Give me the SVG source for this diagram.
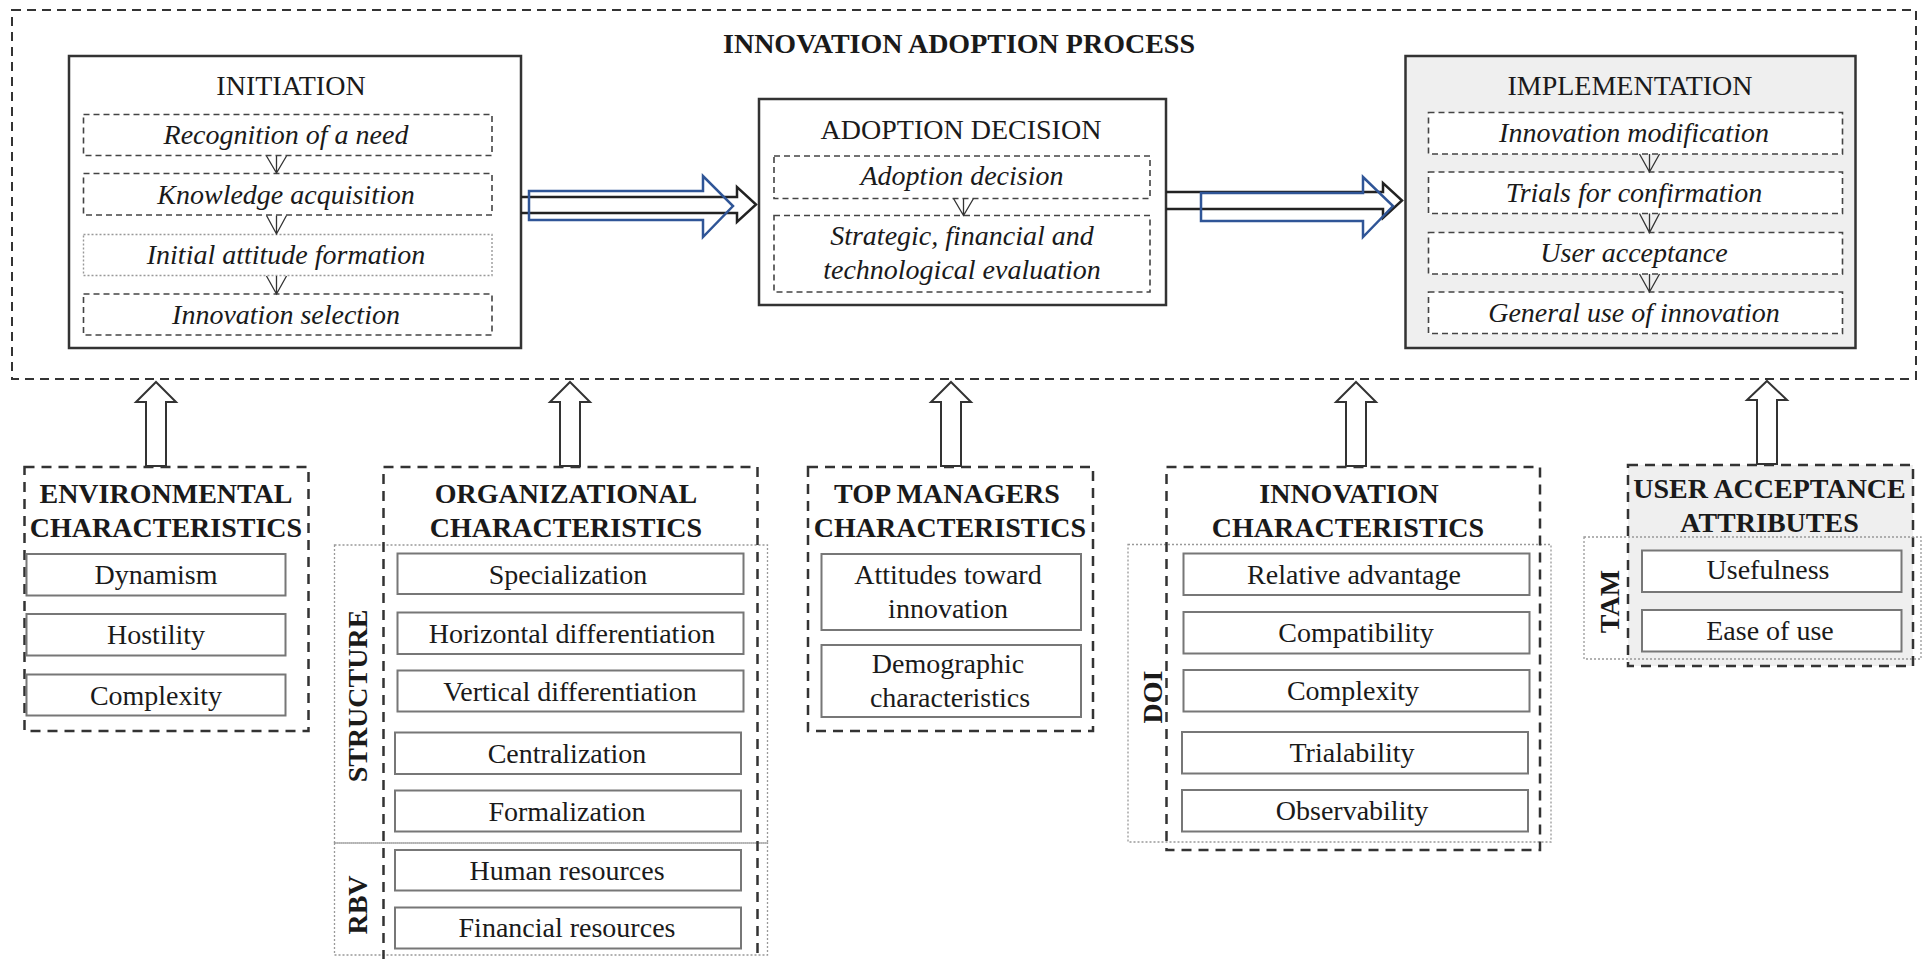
<svg xmlns="http://www.w3.org/2000/svg" width="1926" height="959" viewBox="0 0 1926 959">
<style>
text{font-family:"Liberation Serif","Times New Roman",serif;fill:#1a1a1a;text-anchor:middle}
.t{font-size:28px}
.b{font-size:28px;font-weight:bold}
.i{font-size:28px;font-style:italic}
.outer{fill:none;stroke:#333;stroke-width:2;stroke-dasharray:9 6}
.stage{fill:#fff;stroke:#333;stroke-width:2.5}
.stageg{fill:#efefef;stroke:#333;stroke-width:2.5}
.step{fill:#fff;stroke:#444;stroke-width:1.6;stroke-dasharray:6 4}
.stepd{fill:#fff;stroke:#999;stroke-width:1.4;stroke-dasharray:2 2}
.grp{fill:none;stroke:#333;stroke-width:2.5;stroke-dasharray:10 7}
.grpg{fill:#efefef;stroke:#333;stroke-width:2.5;stroke-dasharray:10 7}
.dot{fill:none;stroke:#999;stroke-width:1.3;stroke-dasharray:2 2}
.item{fill:#fff;stroke:#777;stroke-width:2}
.up{fill:#fff;stroke:#333;stroke-width:2}
.small{fill:none;stroke:#333;stroke-width:1.3}
.blk{fill:none;stroke:#222;stroke-width:2.5}
.blu{fill:none;stroke:#2f5597;stroke-width:2.5}
</style>

<g id="process">
<rect class="outer" x="12" y="10" width="1904" height="369"/>
<text class="b" x="959" y="53">INNOVATION ADOPTION PROCESS</text>
</g>

<g id="initiation">
<rect class="stage" x="69" y="56" width="452" height="292"/>
<text class="t" x="291" y="95">INITIATION</text>
<rect class="step" x="83.5" y="114.5" width="408.5" height="41"/>
<text class="i" x="286" y="143.5">Recognition of a need</text>
<rect class="step" x="83.5" y="173.5" width="408.5" height="41.5"/>
<text class="i" x="286" y="203.5">Knowledge acquisition</text>
<rect class="stepd" x="83.5" y="234.5" width="408.5" height="41"/>
<text class="i" x="286" y="263.5">Initial attitude formation</text>
<rect class="step" x="83.5" y="294" width="408.5" height="41"/>
<text class="i" x="286" y="323.5">Innovation selection</text>
</g>

<g id="adoption">
<rect class="stage" x="759" y="99" width="407" height="206"/>
<text class="t" x="961" y="138.5">ADOPTION DECISION</text>
<rect class="step" x="774" y="156" width="376" height="42.5"/>
<text class="i" x="962" y="185">Adoption decision</text>
<rect class="step" x="774" y="215.5" width="376" height="76.5"/>
<text class="i" x="962" y="245">Strategic, financial and</text>
<text class="i" x="962" y="278.5">technological evaluation</text>
</g>

<g id="implementation">
<rect class="stageg" x="1405.5" y="56" width="450" height="292"/>
<text class="t" x="1630" y="95">IMPLEMENTATION</text>
<rect class="step" x="1428.5" y="112.5" width="414" height="41.5"/>
<text class="i" x="1634" y="141.5">Innovation modification</text>
<rect class="step" x="1428.5" y="172" width="414" height="41.5"/>
<text class="i" x="1634" y="201.5">Trials for confirmation</text>
<rect class="step" x="1428.5" y="232.5" width="414" height="41.5"/>
<text class="i" x="1634" y="261.5">User acceptance</text>
<rect class="step" x="1428.5" y="292" width="414" height="41.5"/>
<text class="i" x="1634" y="321.5">General use of innovation</text>
</g>

<g id="environmental">
<rect class="grp" x="24.5" y="467" width="284" height="264"/>
<text class="b" x="166" y="503">ENVIRONMENTAL</text>
<text class="b" x="166" y="537">CHARACTERISTICS</text>
<rect class="item" x="26.5" y="554" width="259" height="41.5"/>
<text class="t" x="156" y="584">Dynamism</text>
<rect class="item" x="26.5" y="614" width="259" height="41.5"/>
<text class="t" x="156" y="644">Hostility</text>
<rect class="item" x="26.5" y="674.5" width="259" height="41"/>
<text class="t" x="156" y="704.5">Complexity</text>
</g>

<g id="organizational">
<rect class="dot" x="334.5" y="545" width="433" height="298"/>
<rect class="dot" x="334.5" y="843" width="433" height="112"/>
<text class="b" transform="rotate(-90 366.5 696)" x="366.5" y="696">STRUCTURE</text>
<text class="b" transform="rotate(-90 366.5 905)" x="366.5" y="905">RBV</text>
<rect class="grp" x="383.5" y="467" width="374" height="510"/>
<text class="b" x="566" y="503">ORGANIZATIONAL</text>
<text class="b" x="566" y="537">CHARACTERISTICS</text>
<rect class="item" x="397.5" y="553.5" width="346" height="40.5"/>
<text class="t" x="568" y="583.5">Specialization</text>
<rect class="item" x="397.5" y="612.5" width="346" height="41.5"/>
<text class="t" x="572" y="642.5">Horizontal differentiation</text>
<rect class="item" x="397.5" y="670.5" width="346" height="41"/>
<text class="t" x="570" y="700.5">Vertical differentiation</text>
<rect class="item" x="395" y="732.5" width="346" height="41.5"/>
<text class="t" x="567" y="762.5">Centralization</text>
<rect class="item" x="395" y="790.5" width="346" height="41"/>
<text class="t" x="567" y="820.5">Formalization</text>
<rect class="item" x="395" y="850" width="346" height="40.5"/>
<text class="t" x="567" y="879.5">Human resources</text>
<rect class="item" x="395" y="907.5" width="346" height="41"/>
<text class="t" x="567" y="937">Financial resources</text>
</g>

<g id="topmanagers">
<rect class="grp" x="808" y="467" width="285" height="264"/>
<text class="b" x="947" y="503">TOP MANAGERS</text>
<text class="b" x="950" y="537">CHARACTERISTICS</text>
<rect class="item" x="821.5" y="554" width="259.5" height="76"/>
<text class="t" x="948" y="584">Attitudes toward</text>
<text class="t" x="948" y="618">innovation</text>
<rect class="item" x="821.5" y="645" width="259.5" height="72"/>
<text class="t" x="948" y="673">Demographic</text>
<text class="t" x="950" y="706.5">characteristics</text>
</g>

<g id="innovation">
<rect class="dot" x="1128" y="544.5" width="423" height="297.5"/>
<text class="b" transform="rotate(-90 1161.5 697)" x="1161.5" y="697">DOI</text>
<rect class="grp" x="1166.5" y="467" width="373.5" height="383"/>
<text class="b" x="1349" y="503">INNOVATION</text>
<text class="b" x="1348" y="537">CHARACTERISTICS</text>
<rect class="item" x="1183.5" y="553.5" width="346" height="41.5"/>
<text class="t" x="1354" y="583.5">Relative advantage</text>
<rect class="item" x="1183.5" y="612" width="346" height="41.5"/>
<text class="t" x="1356" y="642">Compatibility</text>
<rect class="item" x="1183.5" y="670" width="346" height="41.5"/>
<text class="t" x="1353" y="700">Complexity</text>
<rect class="item" x="1182" y="732" width="346" height="41.5"/>
<text class="t" x="1352" y="762">Trialability</text>
<rect class="item" x="1182" y="790" width="346" height="41.5"/>
<text class="t" x="1352" y="820">Observability</text>
</g>

<g id="useracceptance">
<rect class="grpg" x="1628" y="465" width="285" height="201"/>
<rect class="dot" x="1584" y="537" width="337" height="122"/>
<text class="b" transform="rotate(-90 1618.5 601.5)" x="1618.5" y="601.5">TAM</text>
<text class="b" x="1769.5" y="498">USER ACCEPTANCE</text>
<text class="b" x="1769.5" y="532">ATTRIBUTES</text>
<rect class="item" x="1642" y="550.5" width="259.5" height="41.5"/>
<text class="t" x="1768" y="579">Usefulness</text>
<rect class="item" x="1642" y="610" width="259.5" height="41.5"/>
<text class="t" x="1770" y="640">Ease of use</text>
</g>

<g id="connectors">
<path class="small" d="M266.5 156 L276.5 173 L286.5 156 M276.5 156 V173"/>
<path class="small" d="M266.5 215.5 L276.5 234 L286.5 215.5 M276.5 215.5 V234"/>
<path class="small" d="M266.5 276 L276.5 294 L286.5 276 M276.5 276 V294"/>
<path class="small" d="M953.5 198.5 L963.5 215.5 L973.5 198.5 M963.5 198.5 V215.5"/>
<path class="small" d="M1639.5 154 L1649.5 172 L1659.5 154 M1649.5 154 V172"/>
<path class="small" d="M1639.5 213.5 L1649.5 232.5 L1659.5 213.5 M1649.5 213.5 V232.5"/>
<path class="small" d="M1639.5 274 L1649.5 292 L1659.5 274 M1649.5 274 V292"/>

<polyline class="blk" points="521,197 737,197 737,187 756,204.5 737,222 737,213 521,213"/>
<polygon class="blu" points="529,191 703,191 703,176 733,206 703,237 703,220 529,220"/>
<polyline class="blk" points="1166,192 1383,192 1383,183 1402,200.5 1383,218 1383,209 1166,209"/>
<polygon class="blu" points="1201,193 1363,193 1363,177 1393,206 1363,237 1363,221 1201,221"/>

<polygon class="up" points="156,382 176,402 166,402 166,466 146,466 146,402 136,402"/>
<polygon class="up" points="570,382 590,402 580,402 580,466 560,466 560,402 550,402"/>
<polygon class="up" points="951,382 971,402 961,402 961,466 941,466 941,402 931,402"/>
<polygon class="up" points="1356,382 1376,402 1366,402 1366,466 1346,466 1346,402 1336,402"/>
<polygon class="up" points="1767,381 1787,400 1777,400 1777,464 1757,464 1757,400 1747,400"/>
</g>
</svg>
